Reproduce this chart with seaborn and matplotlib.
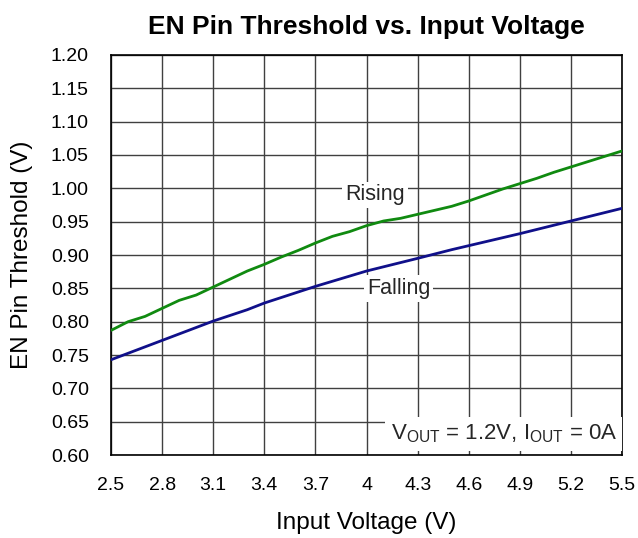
import numpy as np
import pandas as pd
import matplotlib
matplotlib.use("Agg")
import matplotlib.pyplot as plt
import seaborn as sns

rising_x = [2.5, 2.6, 2.7, 2.8, 2.9, 3.0, 3.1, 3.2, 3.3, 3.4, 3.5, 3.6, 3.7, 3.8, 3.9, 4.0,
            4.1, 4.2, 4.3, 4.4, 4.5, 4.6, 4.7, 4.8, 4.9, 5.0, 5.1, 5.2, 5.3, 5.4, 5.5]
rising_y = [0.787, 0.800, 0.808, 0.820, 0.832, 0.840, 0.852, 0.864, 0.876, 0.886, 0.897,
            0.907, 0.918, 0.928, 0.935, 0.944, 0.951, 0.955, 0.961, 0.967, 0.973, 0.981,
            0.990, 0.999, 1.007, 1.015, 1.024, 1.032, 1.040, 1.048, 1.056]
falling_x = [2.5, 2.8, 3.1, 3.3, 3.4, 3.7, 4.0, 4.3, 4.5, 4.6, 4.9, 5.2, 5.5]
falling_y = [0.743, 0.772, 0.801, 0.818, 0.828, 0.853, 0.876, 0.895, 0.908, 0.914, 0.932, 0.951, 0.970]

x_ticks = [2.5, 2.8, 3.1, 3.4, 3.7, 4.0, 4.3, 4.6, 4.9, 5.2, 5.5]
x_tick_labels = ["2.5", "2.8", "3.1", "3.4", "3.7", "4", "4.3", "4.6", "4.9", "5.2", "5.5"]
y_ticks = [0.60, 0.65, 0.70, 0.75, 0.80, 0.85, 0.90, 0.95, 1.00, 1.05, 1.10, 1.15, 1.20]

df = pd.concat([
    pd.DataFrame({"x": rising_x, "y": rising_y, "series": "Rising"}),
    pd.DataFrame({"x": falling_x, "y": falling_y, "series": "Falling"}),
])

sns.set_theme(style="white")
plt.rcParams["font.family"] = ["Liberation Sans", "DejaVu Sans"]

fig = plt.figure(figsize=(6.38, 5.38), dpi=100)
ax = fig.add_axes([0.174, 0.154, 0.801, 0.744])

sns.lineplot(data=df, x="x", y="y", hue="series",
             palette={"Rising": "#108a10", "Falling": "#10108a"},
             linewidth=2, legend=False, ax=ax, zorder=3)

ax.set_xlim(2.5, 5.5)
ax.set_ylim(0.60, 1.20)
ax.set_xticks(x_ticks)
ax.set_xticklabels(x_tick_labels)
ax.set_yticks(y_ticks)
ax.set_yticklabels([f"{v:.2f}" for v in y_ticks])
ax.grid(True, color="#404040", linewidth=1.0)
ax.set_axisbelow(True)
for s in ax.spines.values():
    s.set_color("black")
    s.set_linewidth(1.2)
ax.tick_params(axis="both", direction="in", length=4, width=1, color="black",
               labelsize=14, labelcolor="black")
ax.tick_params(axis="y", pad=16)
ax.tick_params(axis="x", pad=16)

ax.set_xlabel("Input Voltage (V)", fontsize=17.5, labelpad=13, color="black")
ax.set_ylabel("EN Pin Threshold (V)", fontsize=17.5, labelpad=13, color="black")
ax.set_title("EN Pin Threshold vs. Input Voltage", fontsize=19, fontweight="bold",
             pad=15, color="black")

bbox = dict(facecolor="white", edgecolor="none", pad=2)
ax.text(4.05, 0.99, "Rising", fontsize=15.5, ha="center", va="center", bbox=bbox, zorder=4)
ax.text(4.19, 0.85, "Falling", fontsize=15.5, ha="center", va="center", bbox=bbox, zorder=4)
ax.text(5.47, 0.615, r"V$_{\mathregular{OUT}}$ = 1.2V, I$_{\mathregular{OUT}}$ = 0A",
        fontsize=16, ha="right", va="bottom",
        bbox=dict(facecolor="white", edgecolor="none", pad=4), zorder=4)

fig.savefig("out.png", dpi=100)
